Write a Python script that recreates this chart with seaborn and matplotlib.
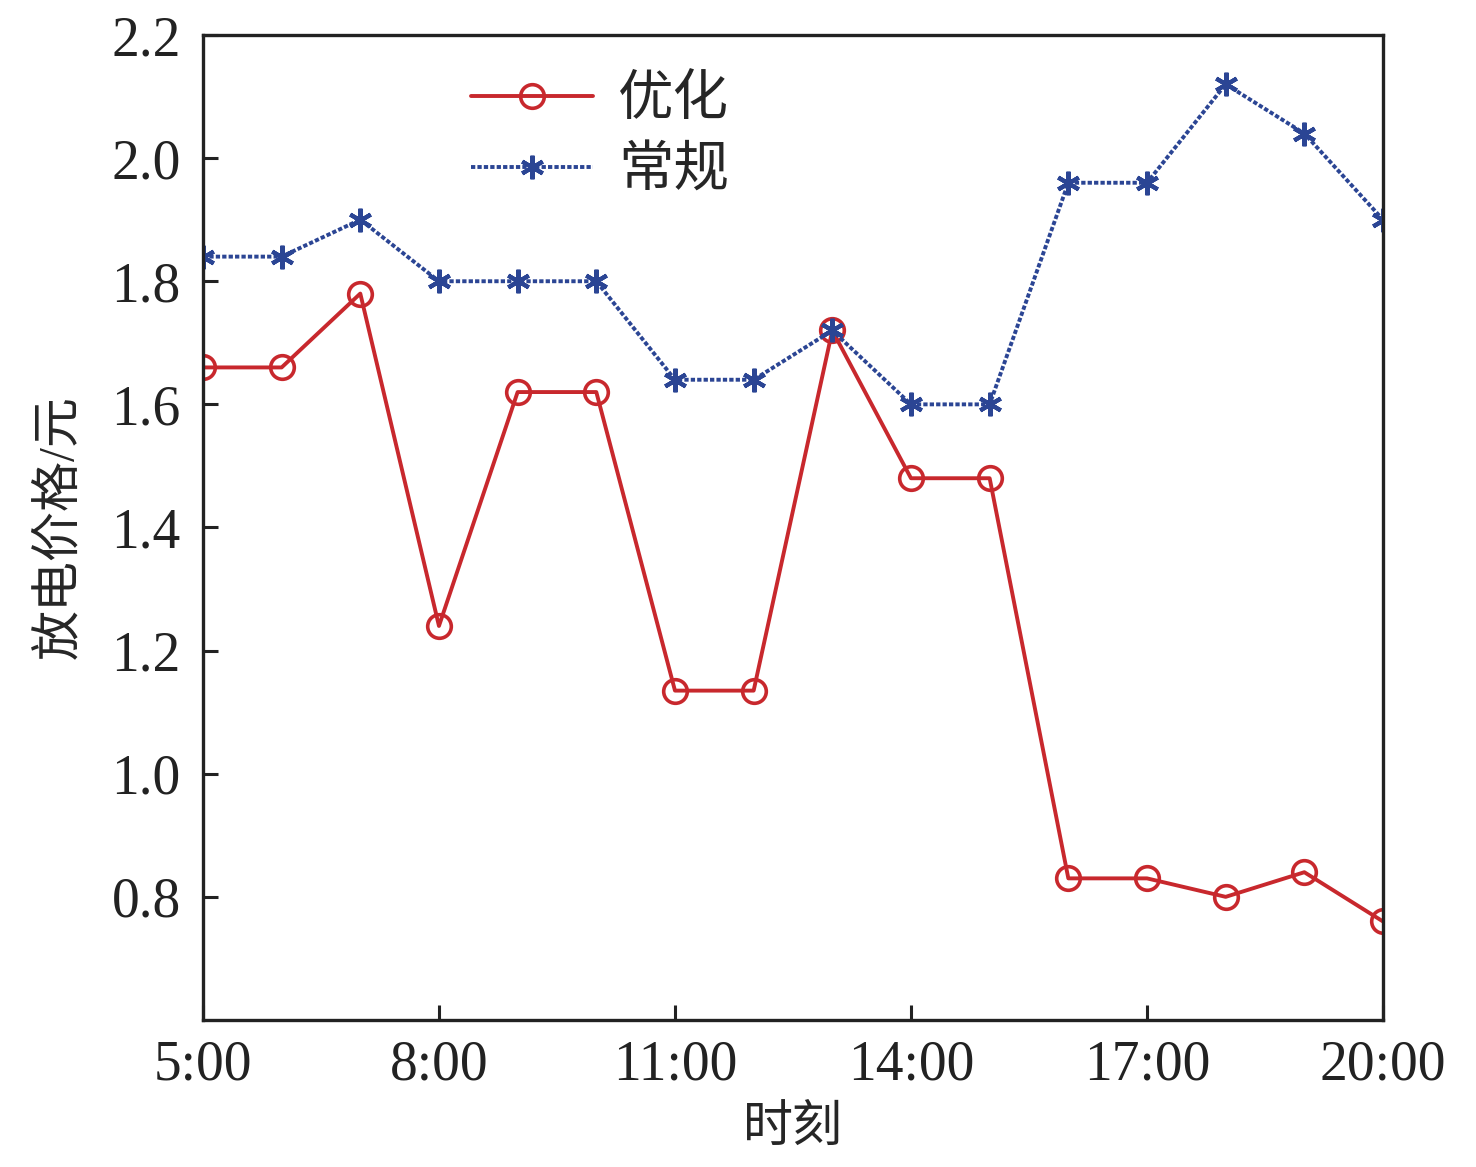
import pandas as pd
import seaborn as sns
import matplotlib.pyplot as plt

hours = list(range(5, 21))
optimized = [1.66, 1.66, 1.78, 1.24, 1.62, 1.62, 1.135, 1.135, 1.72, 1.48, 1.48,
             0.83, 0.83, 0.80, 0.84, 0.76]
regular = [1.84, 1.84, 1.90, 1.80, 1.80, 1.80, 1.64, 1.64, 1.72, 1.60, 1.60,
           1.96, 1.96, 2.12, 2.04, 1.90]
x_ticks = [5, 8, 11, 14, 17, 20]
x_tick_labels = ["5:00", "8:00", "11:00", "14:00", "17:00", "20:00"]
y_ticks = [0.8, 1.0, 1.2, 1.4, 1.6, 1.8, 2.0, 2.2]

sns.set_style("ticks")
plt.rcParams["font.family"] = ["Liberation Serif", "Noto Sans CJK SC"]

df = pd.DataFrame({"hour": hours, "opt": optimized, "reg": regular})

fig = plt.figure(figsize=(14.76, 11.67), dpi=100)
ax = fig.add_axes([0.1375, 0.126, 0.7995, 0.844])

sns.lineplot(data=df, x="hour", y="opt", ax=ax, color="#C8282D", linewidth=2.8,
             marker="o", markersize=17, markerfacecolor="none",
             markeredgecolor="#C8282D", markeredgewidth=2.6, label="优化")
sns.lineplot(data=df, x="hour", y="reg", ax=ax, color="#2B4594", linewidth=2.8,
             linestyle=(0, (1.1, 0.55)), marker=(6, 2, 0), markersize=17,
             markeredgecolor="#2B4594", markeredgewidth=3, label="常规")

ax.set_xlim(5, 20)
ax.set_ylim(0.6, 2.2)
ax.set_xticks(x_ticks)
ax.set_xticklabels(x_tick_labels)
ax.set_yticks(y_ticks)
ax.set_yticklabels([f"{v:.1f}" for v in y_ticks])
ax.tick_params(direction="in", length=11, width=2.2, labelsize=40,
               colors="#222222", top=False, right=False)
ax.tick_params(axis="y", pad=16)
ax.tick_params(axis="x", pad=14)
for side in ["top", "right", "bottom", "left"]:
    ax.spines[side].set_linewidth(2.4)
    ax.spines[side].set_color("#222222")

ax.set_xlabel("时刻", fontsize=36, labelpad=10)
ax.set_ylabel("放电价格/元", fontsize=36, labelpad=20)

ax.legend(loc="upper left", bbox_to_anchor=(0.185, 1.01), frameon=False,
          fontsize=40, handlelength=2.2, handletextpad=0.45, labelspacing=0.35)

fig.savefig("out.png", dpi=100)
